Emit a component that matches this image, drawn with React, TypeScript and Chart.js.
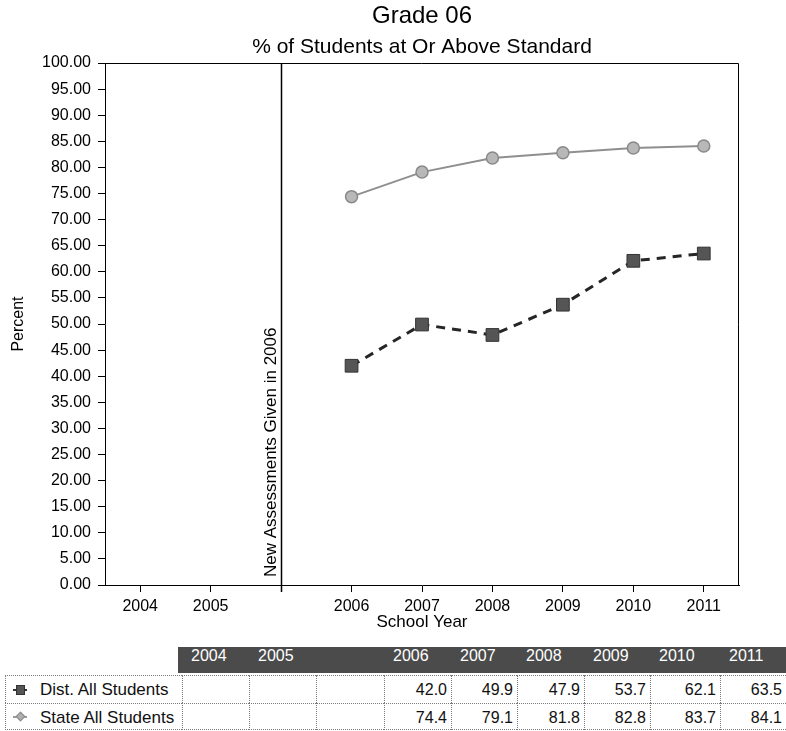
import React, { useEffect, useRef } from 'react';
import { Chart, registerables } from 'chart.js';

Chart.register(...registerables);

// ---------- data ----------
const categories = ['2004', '2005', '', '2006', '2007', '2008', '2009', '2010', '2011'];
const distAllStudents: (number | null)[] = [null, null, null, 42.0, 49.9, 47.9, 53.7, 62.1, 63.5];
const stateAllStudents: (number | null)[] = [null, null, null, 74.4, 79.1, 81.8, 82.8, 83.7, 84.1];
const seriesLabels = ['Dist. All Students', 'State All Students'];
const yMin = 0;
const yMax = 100;
const yStep = 5;
const dividerIndex = 2;
const dividerText = 'New Assessments Given in 2006';
const chartTitle = 'Grade 06';
const chartSubtitle = '% of Students at Or Above Standard';
const xTitle = 'School Year';
const yTitle = 'Percent';

// ---------- styling ----------
const FONT = '"Liberation Sans", Arial, Helvetica, sans-serif';
const colEdges = [182, 249, 316, 384, 451, 517, 584, 650, 720, 786];
const rowTops = [675, 703];
const rowHeights = [28, 27];
const DOT = '1px dotted #7a7a7a';

const overlayPlugin = {
  id: 'overlay',
  afterDraw(chart: any) {
    const { ctx, chartArea: a, scales } = chart;
    ctx.save();
    ctx.strokeStyle = '#000';
    ctx.lineWidth = 1;
    // top and right frame
    ctx.beginPath();
    ctx.moveTo(a.left, a.top + 0.5);
    ctx.lineTo(a.right - 0.5, a.top + 0.5);
    ctx.lineTo(a.right - 0.5, a.bottom);
    ctx.stroke();
    // divider
    const x = Math.round(scales.x.getPixelForValue(dividerIndex)) + 0.5;
    ctx.lineWidth = 1.5;
    ctx.beginPath();
    ctx.moveTo(x, a.top);
    ctx.lineTo(x, a.bottom + 7);
    ctx.stroke();
    ctx.translate(x - 10, a.bottom - 8);
    ctx.rotate(-Math.PI / 2);
    ctx.font = `17px ${FONT}`;
    ctx.fillStyle = '#000';
    ctx.textAlign = 'left';
    ctx.textBaseline = 'middle';
    ctx.fillText(dividerText, 0, 0);
    ctx.restore();
  },
};

function ChartCanvas() {
  const ref = useRef<HTMLCanvasElement | null>(null);
  useEffect(() => {
    if (!ref.current) return;
    const chart = new Chart(ref.current, {
      type: 'line',
      data: {
        labels: categories,
        datasets: [
          {
            label: seriesLabels[1],
            data: stateAllStudents,
            borderColor: '#8f8f8f',
            borderWidth: 2,
            backgroundColor: '#b8b8b8',
            pointBackgroundColor: '#b8b8b8',
            pointBorderColor: '#8a8a8a',
            pointBorderWidth: 1.5,
            pointStyle: 'circle',
            pointRadius: 6,
            tension: 0,
          },
          {
            label: seriesLabels[0],
            data: distAllStudents,
            borderColor: '#262626',
            borderWidth: 3,
            borderDash: [9, 7],
            backgroundColor: '#555',
            pointBackgroundColor: '#555',
            pointBorderColor: '#333',
            pointBorderWidth: 1,
            pointStyle: 'rect',
            pointRadius: 9,
            tension: 0,
          },
        ],
      },
      options: {
        animation: false,
        responsive: false,
        maintainAspectRatio: false,
        layout: { padding: { left: 11, right: 47, top: 0, bottom: 14.5 } },
        plugins: {
          legend: { display: false },
          tooltip: { enabled: false },
          title: {
            display: true,
            text: chartTitle,
            fullSize: false,
            color: '#000',
            font: { family: FONT, size: 24, weight: 'normal', lineHeight: 1.2 },
            padding: { top: 2, bottom: 2 },
          },
          subtitle: {
            display: true,
            text: chartSubtitle,
            fullSize: false,
            color: '#000',
            font: { family: FONT, size: 21, weight: 'normal', lineHeight: 1.2 },
            padding: { top: 2, bottom: 3 },
          },
        },
        scales: {
          x: {
            type: 'category',
            offset: true,
            grid: { display: true, drawOnChartArea: false, drawTicks: true, tickLength: 7, color: '#000', offset: false },
            border: { display: true, color: '#000', width: 1 },
            ticks: { color: '#000', font: { family: FONT, size: 16 }, padding: 5, autoSkip: false, maxRotation: 0 },
            title: { display: true, text: xTitle, color: '#000', font: { family: FONT, size: 17, lineHeight: 1 }, padding: 0 },
            afterFit: (s: any) => { s.height = 45.5; },
          },
          y: {
            min: yMin,
            max: yMax,
            grid: { display: true, drawOnChartArea: false, drawTicks: true, tickLength: 7, color: '#000' },
            border: { display: true, color: '#000', width: 1 },
            ticks: {
              stepSize: yStep,
              autoSkip: false,
              color: '#000',
              padding: 7,
              font: { family: FONT, size: 16 },
              callback: (v: any) => Number(v).toFixed(2),
            },
            title: { display: true, text: yTitle, color: '#000', font: { family: FONT, size: 16, lineHeight: 1 }, padding: 0 },
            afterFit: (s: any) => { s.width = 94; },
          },
        },
      },
      plugins: [overlayPlugin],
    } as any);
    return () => chart.destroy();
  }, []);
  return (
    <canvas
      ref={ref}
      width={786}
      height={645}
      style={{ position: 'absolute', left: 0, top: 0, width: 786, height: 645 }}
    />
  );
}

function Icon({ kind }: { kind: string }) {
  if (kind === 'square') {
    return (
      <div style={{ position: 'absolute', left: 7, top: '50%', width: 14, height: 10, marginTop: -5 }}>
        <div style={{ position: 'absolute', left: 0, top: 4, width: 14, height: 2, background: '#333' }} />
        <div style={{ position: 'absolute', left: 3, top: 0, width: 9, height: 10, background: '#555', border: '1px solid #333', boxSizing: 'border-box' }} />
      </div>
    );
  }
  return (
    <div style={{ position: 'absolute', left: 7, top: '50%', width: 14, height: 10, marginTop: -5 }}>
      <div style={{ position: 'absolute', left: 0, top: 4, width: 14, height: 2, background: '#999' }} />
      <div style={{ position: 'absolute', left: 4, top: 1, width: 7, height: 7, background: '#b0b0b0', border: '1px solid #888', boxSizing: 'border-box', transform: 'rotate(45deg)' }} />
    </div>
  );
}

function DataTable() {
  const rows = [
    { label: seriesLabels[0], values: distAllStudents, icon: 'square' },
    { label: seriesLabels[1], values: stateAllStudents, icon: 'diamond' },
  ];
  return (
    <>
      <div style={{ position: 'absolute', left: 178, top: 647, width: 786 - 178, height: 26, background: '#4b4b4b' }} />
      {categories.map((c, i) => (
        <div
          key={'h' + i}
          style={{
            position: 'absolute',
            left: colEdges[i] + 9,
            top: 647,
            height: 26,
            lineHeight: '26px',
            color: '#fff',
            font: `16px ${FONT}`,
          }}
        >
          {c}
        </div>
      ))}
      {rows.map((r, ri) => (
        <React.Fragment key={'r' + ri}>
          <div
            style={{
              position: 'absolute',
              left: 5,
              top: rowTops[ri],
              width: colEdges[0] - 5,
              height: rowHeights[ri],
              boxSizing: 'border-box',
              borderLeft: DOT,
              borderTop: DOT,
              borderBottom: ri === rows.length - 1 ? DOT : 'none',
              font: `17px ${FONT}`,
              color: '#111',
              lineHeight: rowHeights[ri] + 'px',
              paddingLeft: 34,
              whiteSpace: 'nowrap',
            }}
          >
            <Icon kind={r.icon} />
            {r.label}
          </div>
          {r.values.map((v, ci) => (
            <div
              key={'c' + ci}
              style={{
                position: 'absolute',
                left: colEdges[ci],
                top: rowTops[ri],
                width: colEdges[ci + 1] - colEdges[ci],
                height: rowHeights[ri],
                boxSizing: 'border-box',
                borderLeft: DOT,
                borderTop: DOT,
                borderRight: ci === r.values.length - 1 ? 'none' : 'none',
                borderBottom: ri === rows.length - 1 ? DOT : 'none',
                font: `16px ${FONT}`,
                color: '#111',
                lineHeight: rowHeights[ri] + 'px',
                textAlign: 'right',
                paddingRight: 4,
              }}
            >
              {v === null ? '' : v.toFixed(1)}
            </div>
          ))}
        </React.Fragment>
      ))}
    </>
  );
}

export default function App() {
  return (
    <div style={{ position: 'absolute', left: 0, top: 0, width: 786, height: 731, background: '#fff', overflow: 'hidden' }}>
      <ChartCanvas />
      <DataTable />
    </div>
  );
}
